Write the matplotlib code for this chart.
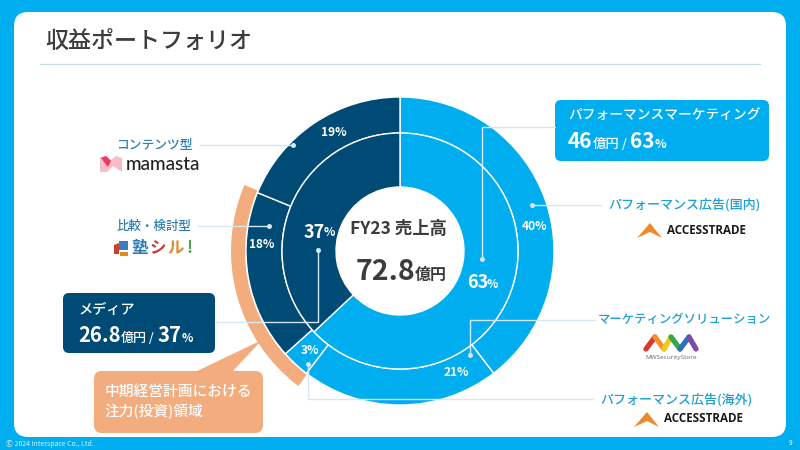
import matplotlib
matplotlib.use("Agg")
import matplotlib.pyplot as plt
from matplotlib.patches import FancyBboxPatch, Wedge, Polygon, Rectangle

plt.rcParams['font.family'] = ['Noto Sans CJK JP', 'DejaVu Sans']

BLUE = '#00AEEF'
NAVY = '#004B75'
PEACH = '#F2AC7E'
LINE = '#D5E8F5'
DARK = '#3C3C3C'
LABEL_NAVY = '#2F7FB0'
LABEL_BLUE = '#1F9FD2'

inner_labels = ['パフォーマンスマーケティング', 'メディア']
inner_values = [63, 37]
outer_labels = ['パフォーマンス広告(国内)', 'マーケティングソリューション', 'パフォーマンス広告(海外)', '比較・検討型', 'コンテンツ型']
outer_values = [40, 21, 3, 18, 19]
inner_colors = [BLUE, NAVY]
outer_colors = [BLUE, BLUE, BLUE, NAVY, NAVY]
total_sales = '72.8'

H = 450
CX, CY = 400, H - 251


def y(v):
    return H - v


def rbox(ax, x0, y0, w, h, color, r=6, z=3):
    # x0, y0 is the top left corner in image pixels
    p = FancyBboxPatch((x0 + r, y(y0 + h) + r), w - 2 * r, h - 2 * r,
                       boxstyle=f"round,pad={r},rounding_size={r}",
                       fc=color, ec='none', zorder=z)
    ax.add_patch(p)


def leader(ax, xs, ys, dot=None):
    ax.plot(xs, [y(v) for v in ys], color=LINE, lw=1.0, zorder=6, solid_capstyle='round')
    if dot is not None:
        ax.plot([dot[0]], [y(dot[1])], 'o', ms=3.6, color=LINE, mec='none', zorder=7)


def amount(ax, x0, yc, big1, big2, color='white', size=15):
    # "26.8億円 / 37%" style line, built from left to right
    r = ax.figure.canvas.get_renderer()
    x = x0
    parts = [(big1, size, 'bold'), ('億円', size * 0.64, 'medium'), (' / ', size * 0.62, 'medium'),
             (big2, size, 'bold'), ('%', size * 0.58, 'bold')]
    for s, fs, w in parts:
        t = ax.text(x, y(yc), s, color=color, fontsize=fs, fontweight=w, va='baseline', ha='left', zorder=8)
        x += t.get_window_extent(r).width * 800 / ax.figure.bbox.width


def main():
    fig = plt.figure(figsize=(8, 4.5), dpi=100, facecolor=BLUE)
    ax = fig.add_axes([0, 0, 1, 1])

    # donut rings
    ax.pie(outer_values, colors=outer_colors, startangle=90, counterclock=False, radius=154,
           center=(CX, CY), frame=True, normalize=True,
           wedgeprops=dict(width=36, edgecolor='white', linewidth=1.0))
    ax.pie(inner_values, colors=inner_colors, startangle=90, counterclock=False, radius=118,
           center=(CX, CY), frame=True, normalize=True,
           wedgeprops=dict(width=54, edgecolor='white', linewidth=1.0))
    for w in ax.patches:
        w.set_zorder(2)
    ax.set_xlim(0, 800)
    ax.set_ylim(0, 450)
    ax.set_aspect('auto')
    ax.axis('off')

    ax.add_patch(Rectangle((0, 0), 800, 450, fc=BLUE, ec='none', zorder=0))
    rbox(ax, 14, 12, 772, 425, 'white', r=14, z=1)

    # title
    ax.text(45, y(41), '収益ポートフォリオ', fontsize=16.6, fontweight='medium', color=DARK, va='center', ha='left', zorder=8)
    ax.plot([40, 760], [y(64), y(64)], color='#C3DDE4', lw=0.9, zorder=2)

    # focus area arc and callout
    ax.add_patch(Wedge((CX, CY), 169, 90 - 293, 90 - 217, width=14, fc=PEACH, ec='none', zorder=2))
    ax.add_patch(Polygon([(262, y(340)), (195, y(372)), (232, y(372))], fc=PEACH, ec='none', zorder=3))
    rbox(ax, 94, 371, 169, 62, PEACH, r=8)
    ax.text(105, y(392), '中期経営計画における', fontsize=10.6, color='white', fontweight='medium', va='center', zorder=8)
    ax.text(104, y(412), '注力(投資)領域', fontsize=10.6, color='white', fontweight='medium', va='center', zorder=8)

    # leaders
    leader(ax, [200, 292], [145, 145], dot=(293, 145))
    leader(ax, [198, 269], [226, 226], dot=(269, 226))
    leader(ax, [215, 318, 318], [322, 322, 250], dot=(318, 250))
    leader(ax, [555, 482, 482], [127, 127, 259], dot=(482, 259))
    leader(ax, [601, 532], [205, 205], dot=(532, 205))
    leader(ax, [595, 470, 470], [320, 320, 355], dot=(470, 355))
    leader(ax, [593, 308, 308], [399, 399, 364], dot=(308, 364))

    # ring labels
    for s, px, py in [('19%', 334, 132), ('18%', 262, 245), ('40%', 535, 227), ('21%', 456, 372), ('3%', 310, 350)]:
        ax.text(px, y(py), s, color='white', fontsize=8.6, fontweight='bold', ha='center', va='center', zorder=8)
    ax.text(304, y(232), '37', color='white', fontsize=13, fontweight='bold', va='center', zorder=8)
    ax.text(324, y(233), '%', color='white', fontsize=8.5, fontweight='bold', va='center', zorder=8)
    ax.text(467, y(283), '63', color='white', fontsize=13, fontweight='bold', va='center', zorder=8)
    ax.text(487, y(284), '%', color='white', fontsize=8.5, fontweight='bold', va='center', zorder=8)

    # centre text
    ax.text(399, y(229), 'FY23 売上高', color=DARK, fontsize=12.5, fontweight='bold', ha='center', va='center', zorder=8)
    ax.text(356, y(280), total_sales, color=DARK, fontsize=20.5, fontweight='bold', ha='left', va='baseline', zorder=8)
    ax.text(415, y(280), '億円', color=DARK, fontsize=11.5, fontweight='bold', ha='left', va='baseline', zorder=8)

    # headline boxes
    rbox(ax, 555, 100, 214, 61, BLUE, r=6)
    ax.text(568, y(115), inner_labels[0], color='white', fontsize=9.9, fontweight='medium', va='center', zorder=8)
    amount(ax, 568, 148, '46', '63')
    rbox(ax, 63, 293, 152, 60, NAVY, r=6)
    ax.text(78, y(310), inner_labels[1], color='white', fontsize=10.2, fontweight='medium', va='center', zorder=8)
    amount(ax, 78, 342, '26.8', '37', size=14.6)

    # segment captions
    ax.text(193, y(145), outer_labels[4], color=LABEL_NAVY, fontsize=9.2, fontweight='medium', ha='right', va='center', zorder=8)
    ax.text(191, y(226), outer_labels[3], color=LABEL_NAVY, fontsize=9, fontweight='medium', ha='right', va='center', zorder=8)
    ax.text(761, y(205), outer_labels[0], color=LABEL_BLUE, fontsize=9.4, fontweight='medium', ha='right', va='center', zorder=8)
    ax.text(771, y(320), outer_labels[1], color=LABEL_BLUE, fontsize=8.9, fontweight='medium', ha='right', va='center', zorder=8)
    ax.text(753, y(400), outer_labels[2], color=LABEL_BLUE, fontsize=9.4, fontweight='medium', ha='right', va='center', zorder=8)

    # mamasta logo
    ax.add_patch(Polygon([(100, y(157)), (106, y(156)), (111, y(160)), (116, y(156)), (122, y(158)), (122, y(172)),
                          (113, y(166)), (107, y(172)), (100, y(172))], fc='#F7BCC8', ec='none', zorder=8))
    ax.add_patch(Polygon([(101, y(158)), (106, y(156)), (111, y(161)), (108, y(167))], fc='#EC3A68', ec='none', zorder=9))
    ax.text(126, y(164), 'mamasta', color='#222222', fontsize=13.6, fontweight='medium', family='Lato', va='center', zorder=8)

    # juku-shiru logo
    for pts, c in [([(119, 241), (128, 241), (128, 250), (119, 250)], '#3A7FBF'),
                   ([(114, 245), (119, 243), (119, 254), (114, 254)], '#C8402E'),
                   ([(120, 252), (128, 252), (128, 256), (120, 256)], '#E08B2B')]:
        ax.add_patch(Polygon([(a, y(b)) for a, b in pts], fc=c, ec='none', zorder=8))
    for s, c, px in [('塾', '#2E78B7', 131), ('シ', '#C83C3C', 150), ('ル', '#E08B2B', 167), ('!', '#4CA64C', 186)]:
        ax.text(px, y(248), s, color=c, fontsize=11.8, fontweight='bold', va='center', zorder=8)

    # accesstrade logos
    for x0, yb, fs in [(637, 237, 8.4), (634, 426, 8.4)]:
        ax.add_patch(Polygon([(x0, y(yb + 1)), (x0 + 13, y(yb - 14)), (x0 + 25, y(yb + 1)), (x0 + 13, y(yb - 5))],
                             fc='#EE8A2B', ec='none', zorder=8))
        ax.text(x0 + 30, y(yb - 7), 'ACCESSTRADE', color='#1A1A1A', fontsize=fs, fontweight='bold', family='Open Sans', va='center', zorder=8)

    # MW logo
    mw_colors = ['#D8392B', '#F0912B', '#F2C81F', '#35A84B', '#2C6FC0', '#7C4BA8']
    xs = [646, 655, 664, 671, 680, 689, 696]
    ys = [349, 337, 349, 337, 349, 337, 349]
    for i, c in enumerate(mw_colors):
        ax.plot(xs[i:i + 2], [y(v) for v in ys[i:i + 2]], color=c, lw=3.8, solid_capstyle='round', zorder=8)
    ax.text(671, y(358), 'MWSecurityStore', color='#666666', fontsize=4.6, ha='center', va='center', family='Open Sans', zorder=8)

    # footer
    ax.text(6, y(444), 'Ⓒ 2024 Interspace Co., Ltd.', color='white', fontsize=5, va='center', alpha=0.85, zorder=8)
    ax.text(791, y(443), '9', color='white', fontsize=4.8, va='center', ha='center', zorder=8)

    fig.savefig('out.png', dpi=100, facecolor=BLUE)


if __name__ == "__main__":
    main()
